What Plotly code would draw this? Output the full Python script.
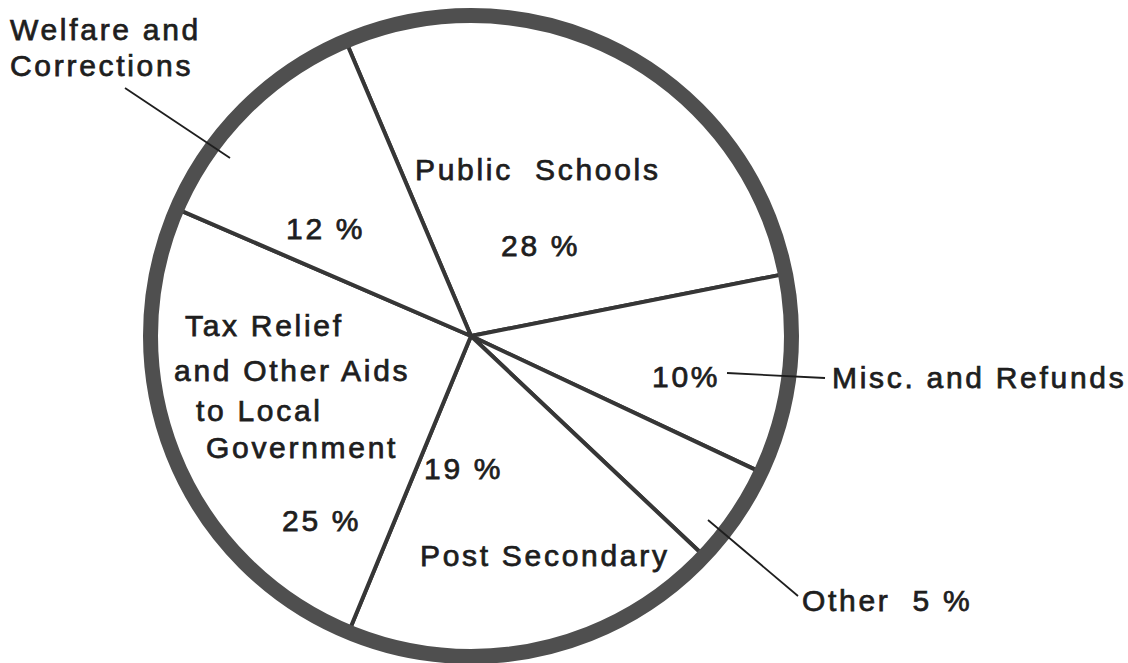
import plotly.graph_objects as go

# Budget shares, in drawing order (clockwise from the top)
categories = [
    "Public Schools",
    "Misc. and Refunds",
    "Other",
    "Post Secondary",
    "Tax Relief and Other Aids to Local Government",
    "Welfare and Corrections",
]
shares = [28, 10, 5, 19, 25, 12]

# Canvas and pie geometry (pixels)
W, H = 1128, 663
CX, CY, R = 471, 336, 320.5

INK = "#1e1e1e"
RIM = "#4f4f4f"
SPOKE = "#363636"
FONT = "Liberation Sans, Arial, Helvetica, sans-serif"

domain = dict(
    x=[(CX - R) / W, (CX + R) / W],
    y=[(H - CY - R) / H, (H - CY + R) / H],
)

fig = go.Figure()

# The slices: white wedges separated by dark spokes
fig.add_trace(go.Pie(
    labels=categories,
    values=shares,
    sort=False,
    direction="clockwise",
    rotation=-23,
    textinfo="none",
    hoverinfo="label+value",
    marker=dict(colors=["white"] * len(shares), line=dict(color=SPOKE, width=4)),
    domain=domain,
    showlegend=False,
))

# Heavy outer rim drawn as a single full-circle slice on top
fig.add_trace(go.Pie(
    labels=["rim"],
    values=[1],
    sort=False,
    textinfo="none",
    hoverinfo="skip",
    marker=dict(colors=["rgba(0,0,0,0)"], line=dict(color=RIM, width=15)),
    domain=domain,
    showlegend=False,
))


def px(x, y):
    return x / W, 1 - y / H


def label(text, x, y, xanchor="center", size=30, spacing=2.7):
    xp, yp = px(x, y)
    style = f"letter-spacing:{spacing}px;stroke:{INK};stroke-width:0.75px"
    fig.add_annotation(
        x=xp, y=yp, xref="paper", yref="paper",
        text=f'<span style="{style}">{text}</span>',
        showarrow=False, xanchor=xanchor, yanchor="middle",
        font=dict(family=FONT, size=size, color=INK),
    )


def leader(x0, y0, x1, y1):
    a, b = px(x0, y0)
    c, d = px(x1, y1)
    fig.add_shape(type="line", xref="paper", yref="paper",
                  x0=a, y0=b, x1=c, y1=d,
                  line=dict(color=INK, width=1.8))


# Welfare and Corrections (outside, upper left)
label("Welfare and", 8, 30, xanchor="left")
label("Corrections", 8, 66, xanchor="left")
leader(125, 88, 230, 158)
label(f"{shares[5]} %", 325, 228)

# Public Schools
label("Public&nbsp; Schools", 538, 170)
label(f"{shares[0]} %", 540, 245)

# Misc. and Refunds
label(f"{shares[1]}%", 686, 376)
leader(727, 373, 825, 378)
label("Misc. and Refunds", 830, 377, xanchor="left")

# Other
leader(708, 520, 798, 596)
label(f"Other&nbsp; {shares[2]} %", 800, 600, xanchor="left")

# Post Secondary
label(f"{shares[3]} %", 463, 468)
label("Post Secondary", 545, 555)

# Tax Relief and Other Aids to Local Government
label("Tax Relief", 264, 325)
label("and Other Aids", 292, 370)
label("to Local", 259, 410)
label("Government", 302, 447)
label(f"{shares[4]} %", 321, 520)

fig.update_layout(
    width=W, height=H,
    margin=dict(l=0, r=0, t=0, b=0),
    paper_bgcolor="white",
    plot_bgcolor="white",
    showlegend=False,
)

fig.write_html("out.html")
